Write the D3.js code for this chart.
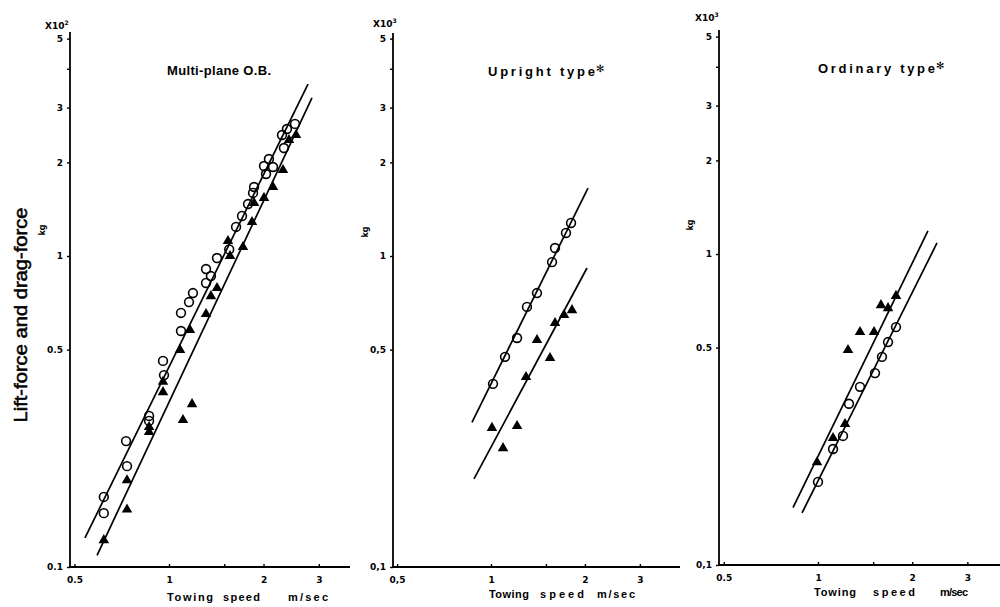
<!DOCTYPE html>
<html>
<head>
<meta charset="utf-8">
<script src="https://cdn.jsdelivr.net/npm/d3@7/dist/d3.min.js"></script>
<style>
  body { margin: 0; background: #ffffff; }
  svg { display: block; }
  .tick text { font-family: 'DejaVu Sans', sans-serif; font-weight: bold; font-size: 9px; fill: #000; }
  .tick line { stroke: #000; stroke-width: 1.4; }
  .bold { font-family: 'DejaVu Sans', 'Liberation Sans', sans-serif; font-weight: bold; fill: #000; }
  .wide { font-family: 'Liberation Sans', Arial, sans-serif; font-weight: bold; fill: #000; }
</style>
</head>
<body>
<svg id="chart" width="1000" height="607"></svg>
<script>
/* global d3 */

// tick values shared by the three panels
const xTicks = [0.5, 1, 1.5, 2, 3];
const yTicks = [0.1, 0.5, 1, 2, 3, 4, 5];

const multiXLabels = ['0.5', '1', '', '2', '3'];
const multiYLabels = ['0.1', '0.5', '1', '2', '3', '', '5'];
const uprightXLabels = ['0,5', '1', '', '2', '3'];
const uprightYLabels = ['0,1', '0,5', '1', '2', '3', '', '5'];
const ordinaryXLabels = ['0.5', '1', '', '2', '3'];
const ordinaryYLabels = ['0,1', '0.5', '1', '2', '3', '', '5'];

// [towing speed m/sec, force x10^n kg]
const multiCircle = [
  [0.62, 0.168], [0.62, 0.149], [0.73, 0.254], [0.735, 0.211], [0.864, 0.306],
  [0.864, 0.295], [0.957, 0.46], [0.964, 0.414], [1.092, 0.656], [1.092, 0.574],
  [1.158, 0.711], [1.192, 0.76], [1.312, 0.908], [1.36, 0.862], [1.312, 0.819],
  [1.422, 0.985], [1.555, 1.05], [1.635, 1.24], [1.708, 1.345], [1.785, 1.469],
  [1.852, 1.595], [1.866, 1.667], [2.037, 1.835], [2.007, 1.947], [2.144, 1.933],
  [2.081, 2.05], [2.323, 2.225], [2.29, 2.449], [2.375, 2.561], [2.519, 2.659],
];
const multiTriangle = [
  [0.62, 0.122], [0.735, 0.153], [0.735, 0.19], [0.864, 0.272], [0.864, 0.282],
  [0.957, 0.365], [0.957, 0.394], [1.084, 0.499], [1.166, 0.578], [1.108, 0.297],
  [1.184, 0.334], [1.312, 0.651], [1.36, 0.743], [1.422, 0.789], [1.541, 1.117],
  [1.564, 1.0], [1.72, 1.069], [1.838, 1.286], [1.866, 1.481], [2.007, 1.537],
  [2.144, 1.667], [2.307, 1.89], [2.411, 2.36], [2.538, 2.449],
];
const multiLines = [
  [[0.54, 0.124], [2.772, 3.573]],
  [[0.59, 0.109], [2.853, 3.222]],
];

const uprightCircle = [
  [1.015, 0.388], [1.109, 0.474], [1.212, 0.545], [1.304, 0.686], [1.404, 0.76],
  [1.569, 0.956], [1.604, 1.061], [1.739, 1.186], [1.805, 1.277],
];
const uprightTriangle = [
  [1.007, 0.28], [1.093, 0.241], [1.212, 0.284], [1.295, 0.408], [1.404, 0.537],
  [1.546, 0.47], [1.604, 0.609], [1.714, 0.646], [1.818, 0.67],
];
const uprightLines = [
  [[0.869, 0.292], [2.046, 1.654]],
  [[0.882, 0.192], [2.031, 0.915]],
];

const ordinaryCircle = [
  [1.0, 0.185], [1.117, 0.236], [1.202, 0.26], [1.256, 0.33], [1.362, 0.374],
  [1.521, 0.414], [1.601, 0.467], [1.674, 0.521], [1.775, 0.582],
];
const ordinaryTriangle = [
  [0.993, 0.214], [1.117, 0.256], [1.22, 0.284], [1.247, 0.491], [1.362, 0.561],
  [1.51, 0.561], [1.589, 0.685], [1.674, 0.67], [1.775, 0.733],
];
const ordinaryLines = [
  [[0.832, 0.153], [2.245, 1.186]],
  [[0.889, 0.147], [2.4, 1.085]],
];

const panels = [
  {
    title: 'Multi-plane O.B.', star: false, titleX: 167, titleW: 104, titleY: 75,
    mult: 'X10', sup: '2', multX: 45, multY: 29,
    kgX: 45, kgY: 230,
    axisX: 70, axisTop: 32, axisEnd: 350, xOne: 169, xDec: 314, yOne: 256, yDec: 311,
    xLabels: multiXLabels, yLabels: multiYLabels,
    words: [[167, 46, 'Towing'], [223, 37, 'speed'], [288, 40, 'm/sec']], wordY: 601,
    circles: multiCircle, triangles: multiTriangle, lines: multiLines,
  },
  {
    title: 'Upright type', star: true, titleX: 488, titleW: 107, titleY: 76,
    mult: 'X10', sup: '3', multX: 373, multY: 27,
    kgX: 368, kgY: 232,
    axisX: 393, axisTop: 33, axisEnd: 680, xOne: 491, xDec: 312, yOne: 256, yDec: 311,
    xLabels: uprightXLabels, yLabels: uprightYLabels,
    words: [[489, 40, 'Towing'], [540, 44, 'speed'], [597, 38, 'm/sec']], wordY: 598,
    circles: uprightCircle, triangles: uprightTriangle, lines: uprightLines,
  },
  {
    title: 'Ordinary type', star: true, titleX: 818, titleW: 117, titleY: 73,
    mult: 'X10', sup: '3', multX: 695, multY: 21,
    kgX: 693, kgY: 225,
    axisX: 719, axisTop: 30, axisEnd: 1000, xOne: 818, xDec: 313, yOne: 254, yDec: 311,
    xLabels: ordinaryXLabels, yLabels: ordinaryYLabels,
    words: [[814, 42, 'Towing'], [873, 42, 'speed'], [940, 28, 'm/sec']], wordY: 596,
    circles: ordinaryCircle, triangles: ordinaryTriangle, lines: ordinaryLines,
  },
];

const svg = d3.select('#chart');
svg.append('rect').attr('width', 1000).attr('height', 607).attr('fill', '#ffffff');

function drawPanel(p) {
  let x = d3.scaleLog().domain([1, 10]).range([p.xOne, p.xOne + p.xDec]);
  let y = d3.scaleLog().domain([1, 10]).range([p.yOne, p.yOne - p.yDec]);
  let bottom = y(0.1);
  let g = svg.append('g');

  // axes
  g.append('g')
    .attr('transform', `translate(${p.axisX},0)`)
    .call(d3.axisLeft(y).tickValues(yTicks).tickSize(3).tickPadding(4)
      .tickFormat((d, i) => p.yLabels[i]))
    .call((a) => a.select('.domain').remove());

  g.append('g')
    .attr('transform', `translate(0,${bottom})`)
    .call(d3.axisBottom(x).tickValues(xTicks).tickSize(-3).tickPadding(10)
      .tickFormat((d, i) => p.xLabels[i]))
    .call((a) => a.select('.domain').remove());

  g.append('line')
    .attr('x1', p.axisX).attr('x2', p.axisX)
    .attr('y1', p.axisTop).attr('y2', bottom + 1)
    .attr('stroke', '#000').attr('stroke-width', 1.8);
  g.append('line')
    .attr('x1', p.axisX - 1).attr('x2', p.axisEnd)
    .attr('y1', bottom).attr('y2', bottom)
    .attr('stroke', '#000').attr('stroke-width', 1.8);

  // fitted lines
  g.selectAll('.fit')
    .data(p.lines)
    .enter()
    .append('line')
    .attr('class', 'fit')
    .attr('x1', (d) => x(d[0][0])).attr('y1', (d) => y(d[0][1]))
    .attr('x2', (d) => x(d[1][0])).attr('y2', (d) => y(d[1][1]))
    .attr('stroke', '#000').attr('stroke-width', 1.7);

  // points
  g.selectAll('.tri')
    .data(p.triangles)
    .enter()
    .append('path')
    .attr('class', 'tri')
    .attr('d', d3.symbol(d3.symbolTriangle).size(48))
    .attr('transform', (d) => `translate(${x(d[0])},${y(d[1])})`)
    .attr('fill', '#000');

  g.selectAll('.circ')
    .data(p.circles)
    .enter()
    .append('circle')
    .attr('class', 'circ')
    .attr('cx', (d) => x(d[0])).attr('cy', (d) => y(d[1]))
    .attr('r', 4.4)
    .attr('fill', 'none')
    .attr('stroke', '#000').attr('stroke-width', 1.6);

  // texts
  g.append('text').attr('class', 'wide')
    .attr('x', p.titleX).attr('y', p.titleY)
    .attr('font-size', 13)
    .attr('textLength', p.titleW).attr('lengthAdjust', 'spacing')
    .text(p.title);
  if (p.star) {
    g.append('text').attr('class', 'bold')
      .attr('x', p.titleX + p.titleW + 1).attr('y', p.titleY - 4)
      .attr('font-size', 10)
      .text('✻');
  }

  let m = g.append('text').attr('class', 'bold')
    .attr('x', p.multX).attr('y', p.multY)
    .attr('font-size', 9);
  m.append('tspan').text(p.mult);
  m.append('tspan').attr('font-size', 6).attr('dy', -4).text(p.sup);

  g.append('text').attr('class', 'bold')
    .attr('transform', `translate(${p.kgX},${p.kgY}) rotate(-90)`)
    .attr('text-anchor', 'middle')
    .attr('font-size', 8)
    .text('kg');

  for (let i = 0; i < p.words.length; i++) {
    let w = p.words[i];
    g.append('text').attr('class', 'wide')
      .attr('x', w[0]).attr('y', p.wordY)
      .attr('font-size', 11)
      .attr('textLength', w[1]).attr('lengthAdjust', 'spacing')
      .text(w[2]);
  }
}

for (let i = 0; i < panels.length; i++) {
  drawPanel(panels[i]);
}

// shared y label
svg.append('text')
  .attr('transform', 'translate(27,315) rotate(-90)')
  .attr('text-anchor', 'middle')
  .attr('font-family', "'Liberation Sans', Arial, sans-serif")
  .attr('font-size', 18)
  .attr('fill', '#000')
  .attr('stroke', '#000')
  .attr('stroke-width', 0.5)
  .attr('textLength', 215)
  .attr('lengthAdjust', 'spacingAndGlyphs')
  .text('Lift-force and drag-force');
</script>
</body>
</html>
